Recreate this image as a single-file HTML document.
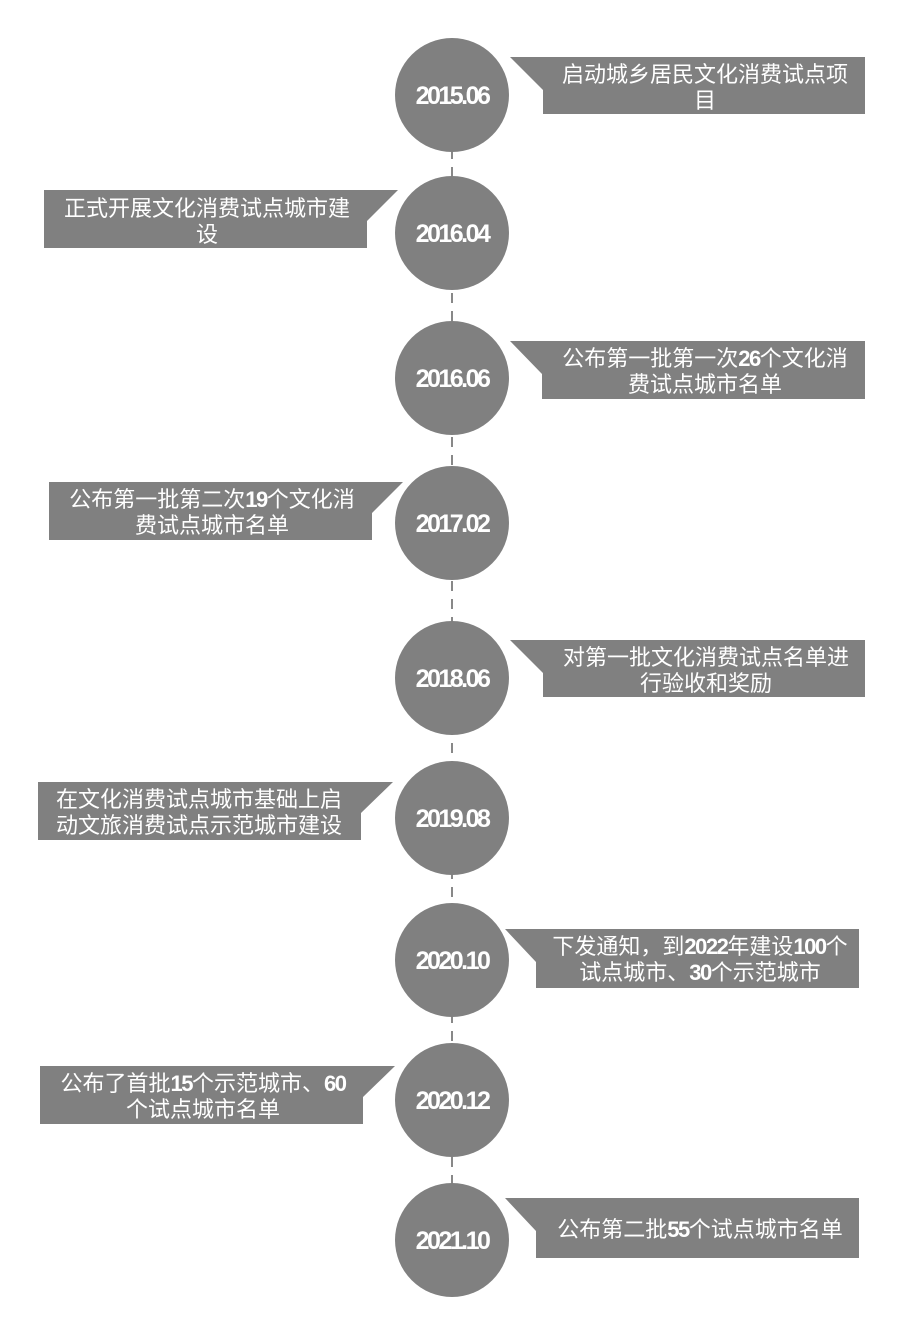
<!DOCTYPE html>
<html><head><meta charset="utf-8"><style>
html,body{margin:0;padding:0;background:#fff;}
svg{display:block}
.y{font-family:"Liberation Sans",sans-serif;font-weight:bold;font-size:25px;fill:#fff;text-anchor:middle;letter-spacing:-2.5px}
.t{font-family:"Liberation Sans","Noto Sans CJK SC",sans-serif;font-size:22px;fill:#fff;text-anchor:middle}
.t tspan.b{font-weight:bold;letter-spacing:-1.5px}
</style></head><body>
<svg width="904" height="1325" viewBox="0 0 904 1325">
<line x1="452" y1="95" x2="452" y2="1240" stroke="#888" stroke-width="2" stroke-dasharray="10,8"/>
<g fill="#808080">
<circle cx="452" cy="95" r="57"/>
<circle cx="452" cy="233" r="57"/>
<circle cx="452" cy="378" r="57"/>
<circle cx="452" cy="523" r="57"/>
<circle cx="452" cy="678" r="57"/>
<circle cx="452" cy="818" r="57"/>
<circle cx="452" cy="960" r="57"/>
<circle cx="452" cy="1100" r="57"/>
<circle cx="452" cy="1240" r="57"/>
<polygon points="510,57 865,57 865,114 543,114 543,90"/>
<polygon points="398,190 44,190 44,248 367,248 367,221"/>
<polygon points="510,341 865,341 865,399 542,399 542,374"/>
<polygon points="403,482 49,482 49,540 372,540 372,513"/>
<polygon points="510,640 865,640 865,697 543,697 543,673"/>
<polygon points="393,782 38,782 38,840 361,840 361,813"/>
<polygon points="505,929 859,929 859,988 536,988 536,962"/>
<polygon points="395,1066 40,1066 40,1124 363,1124 363,1097"/>
<polygon points="505,1198 859,1198 859,1258 536,1258 536,1231"/>
</g>
<g class="y">
<text x="452" y="104">2015.06</text>
<text x="452" y="242">2016.04</text>
<text x="452" y="387">2016.06</text>
<text x="452" y="532">2017.02</text>
<text x="452" y="687">2018.06</text>
<text x="452" y="827">2019.08</text>
<text x="452" y="969">2020.10</text>
<text x="452" y="1109">2020.12</text>
<text x="452" y="1249">2021.10</text>
</g>
<g class="t">
<text x="705" y="82">启动城乡居民文化消费试点项</text>
<text x="705" y="108">目</text>
<text x="207" y="216">正式开展文化消费试点城市建</text>
<text x="207" y="242">设</text>
<text x="705" y="366">公布第一批第一次<tspan class="b">26</tspan>个文化消</text>
<text x="705" y="392">费试点城市名单</text>
<text x="212" y="507">公布第一批第二次<tspan class="b">19</tspan>个文化消</text>
<text x="212" y="533">费试点城市名单</text>
<text x="706" y="665">对第一批文化消费试点名单进</text>
<text x="706" y="691">行验收和奖励</text>
<text x="199" y="807">在文化消费试点城市基础上启</text>
<text x="199" y="833">动文旅消费试点示范城市建设</text>
<text x="700" y="954">下发通知，到<tspan class="b">2022</tspan>年建设<tspan class="b">100</tspan>个</text>
<text x="700" y="980">试点城市、<tspan class="b">30</tspan>个示范城市</text>
<text x="203" y="1091">公布了首批<tspan class="b">15</tspan>个示范城市、<tspan class="b">60</tspan></text>
<text x="203" y="1117">个试点城市名单</text>
<text x="700" y="1237">公布第二批<tspan class="b">55</tspan>个试点城市名单</text>
</g>
</svg>
</body></html>
